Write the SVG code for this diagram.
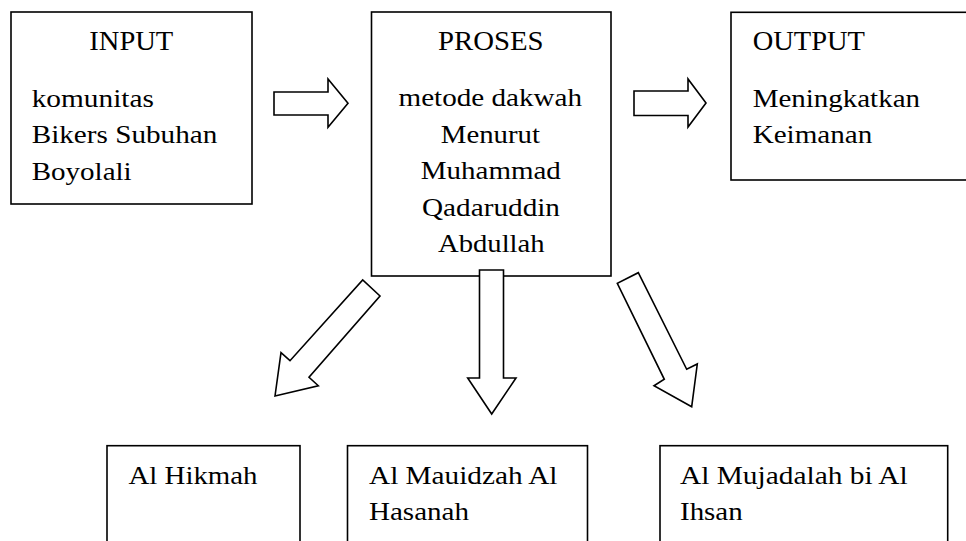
<svg xmlns="http://www.w3.org/2000/svg" width="966" height="541" viewBox="0 0 966 541">
  <style>
    .box { fill: #ffffff; stroke: #000000; stroke-width: 1.6; }
    .arrow { fill: #ffffff; stroke: #000000; stroke-width: 1.6; stroke-linejoin: miter; }
    text { font-family: "Liberation Serif", "Times New Roman", serif; fill: #000000; }
    .h { font-size: 27px; }
    .t { font-size: 26px; }
  </style>
  <rect x="0" y="0" width="966" height="541" fill="#ffffff"/>

  <g id="input">
    <rect class="box" x="11" y="12" width="241" height="192"/>
    <text class="h" x="89.3" y="50" textLength="84" lengthAdjust="spacingAndGlyphs">INPUT</text>
    <text class="t" x="31.7" y="106.5" textLength="122.3" lengthAdjust="spacingAndGlyphs">komunitas</text>
    <text class="t" x="31.7" y="143.3" textLength="185.6" lengthAdjust="spacingAndGlyphs">Bikers Subuhan</text>
    <text class="t" x="31.7" y="180" textLength="100" lengthAdjust="spacingAndGlyphs">Boyolali</text>
  </g>

  <g id="proses">
    <rect class="box" x="371.5" y="12" width="239.5" height="264"/>
    <text class="h" x="438" y="50" textLength="105.5" lengthAdjust="spacingAndGlyphs">PROSES</text>
    <text class="t" x="398.5" y="106" textLength="183.5" lengthAdjust="spacingAndGlyphs">metode dakwah</text>
    <text class="t" x="440.8" y="142.7" textLength="99.2" lengthAdjust="spacingAndGlyphs">Menurut</text>
    <text class="t" x="420.8" y="179.3" textLength="140" lengthAdjust="spacingAndGlyphs">Muhammad</text>
    <text class="t" x="422" y="216" textLength="138" lengthAdjust="spacingAndGlyphs">Qadaruddin</text>
    <text class="t" x="438" y="251.7" textLength="106.6" lengthAdjust="spacingAndGlyphs">Abdullah</text>
  </g>

  <g id="output">
    <rect class="box" x="731" y="12.3" width="260" height="167.7"/>
    <text class="h" x="752.7" y="50" textLength="112.3" lengthAdjust="spacingAndGlyphs">OUTPUT</text>
    <text class="t" x="752.7" y="106.7" textLength="167.3" lengthAdjust="spacingAndGlyphs">Meningkatkan</text>
    <text class="t" x="752.7" y="142.7" textLength="119.6" lengthAdjust="spacingAndGlyphs">Keimanan</text>
  </g>

  <g id="al-hikmah">
    <rect class="box" x="107" y="445.7" width="193" height="110"/>
    <text class="t" x="128.5" y="483.5" textLength="129" lengthAdjust="spacingAndGlyphs">Al Hikmah</text>
  </g>

  <g id="al-mauidzah">
    <rect class="box" x="347.5" y="445.7" width="240" height="110"/>
    <text class="t" x="369" y="483.5" textLength="188.5" lengthAdjust="spacingAndGlyphs">Al Mauidzah Al</text>
    <text class="t" x="369" y="519.5" textLength="100" lengthAdjust="spacingAndGlyphs">Hasanah</text>
  </g>

  <g id="al-mujadalah">
    <rect class="box" x="660" y="445.7" width="287.7" height="110"/>
    <text class="t" x="680" y="483.5" textLength="227.7" lengthAdjust="spacingAndGlyphs">Al Mujadalah bi Al</text>
    <text class="t" x="680" y="519.5" textLength="62.7" lengthAdjust="spacingAndGlyphs">Ihsan</text>
  </g>

  <g id="connectors">
    <polygon class="arrow" points="274,92 328,92 328,79 348,103.3 328,127.3 328,115 274,115"/>
    <polygon class="arrow" points="634,91 688,91 688,79 706,103 688,127 688,115.5 634,115.5"/>
    <polygon class="arrow" points="479.5,270 503.5,270 503.5,378 516,378 491.7,414 467.7,378 479.5,378"/>
    <polygon class="arrow" points="275,396 281,352.7 290,360.7 362.7,280 380,296 309,377.3 318.3,385.7"/>
    <polygon class="arrow" points="691.7,406.7 654,385.7 664.3,379.3 617.3,283.3 638.3,272.7 686.7,369.3 697.3,364"/>
  </g>
</svg>
